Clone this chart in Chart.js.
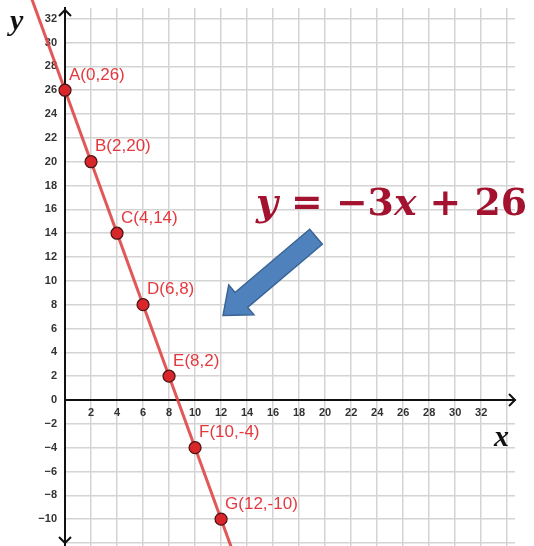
<!DOCTYPE html>
<html>
<head>
<meta charset="utf-8">
<script src="https://cdn.jsdelivr.net/npm/chart.js@4/dist/chart.umd.min.js"></script>
<style>
  html,body{margin:0;padding:0;background:#fff;}
  canvas{display:block;}
</style>
</head>
<body>
<canvas id="lineChart" width="534" height="546"></canvas>
<script>
// named points on the line
const pointNames = ['A','B','C','D','E','F','G'];
const xValues = [0, 2, 4, 6, 8, 10, 12];
const yValues = [26, 20, 14, 8, 2, -4, -10];

// y = slope * x + intercept
const slope = -3;
const intercept = 26;
const lineSpan = [-2.7, 12.8];

// axes
const xRange = [0, 34.6];
const yRange = [-12.25, 32.9];
const tickStep = 2;
const hiddenXTicks = [0, 34];
const hiddenYTicks = [-12];

const fmt = v => v < 0 ? '\u2212' + Math.abs(v) : String(v);

const points = xValues.map((x, i) => ({x: x, y: yValues[i]}));
const lineEnds = lineSpan.map(x => ({x: x, y: slope * x + intercept}));

const RED_TEXT = '#e5383e';
const EQ_RED = '#a3122e';

function noPadding(scale) {
  scale.paddingTop = 0;
  scale.paddingBottom = 0;
  scale.paddingLeft = 0;
  scale.paddingRight = 0;
}

function chevron(ctx, x, y, dir) {
  // small open arrow head at the end of an axis
  const s = 6;
  ctx.beginPath();
  if (dir === 'up') { ctx.moveTo(x - s, y + s); ctx.lineTo(x, y); ctx.lineTo(x + s, y + s); }
  if (dir === 'down') { ctx.moveTo(x - s, y - s); ctx.lineTo(x, y); ctx.lineTo(x + s, y - s); }
  if (dir === 'right') { ctx.moveTo(x - s, y - s); ctx.lineTo(x, y); ctx.lineTo(x - s, y + s); }
  ctx.stroke();
}

const extras = {
  id: 'extras',
  afterDatasetsDraw(chart) {
    const ctx = chart.ctx;
    const xs = chart.scales.x, ys = chart.scales.y;
    const area = chart.chartArea;

    // axis arrow heads
    ctx.save();
    ctx.strokeStyle = '#111';
    ctx.lineWidth = 2;
    const x0 = xs.getPixelForValue(0), y0 = ys.getPixelForValue(0);
    chevron(ctx, x0, area.top + 2, 'up');
    chevron(ctx, x0, area.bottom - 3, 'down');
    chevron(ctx, area.right, y0, 'right');
    ctx.restore();

    // point labels
    const meta = chart.getDatasetMeta(1);
    ctx.save();
    ctx.font = '17px "Liberation Sans", Arial, sans-serif';
    ctx.fillStyle = RED_TEXT;
    ctx.textAlign = 'left';
    ctx.textBaseline = 'middle';
    meta.data.forEach((el, i) => {
      const label = pointNames[i] + '(' + xValues[i] + ',' + yValues[i] + ')';
      ctx.fillText(label, el.x + 4, el.y - 15);
    });
    ctx.restore();

    // axis letters
    ctx.save();
    ctx.fillStyle = '#111';
    ctx.font = 'italic bold 30px "Liberation Serif", serif';
    ctx.textBaseline = 'alphabetic';
    ctx.fillText('y', 10, 30);
    ctx.fillText('x', 494, 446);
    ctx.restore();

    // equation
    const parts = [
      {t: 'y', s: 'italic bold'},
      {t: ' = ', s: 'bold'},
      {t: '\u22123', s: 'bold'},
      {t: 'x', s: 'italic bold'},
      {t: ' + 26', s: 'bold'}
    ];
    const family = '"DejaVu Serif", serif';
    let size = 38;
    ctx.save();
    let total = 0;
    parts.forEach(p => { ctx.font = p.s + ' ' + size + 'px ' + family; total += ctx.measureText(p.t).width; });
    size = size * 271 / total;
    let ex = 256;
    ctx.fillStyle = EQ_RED;
    ctx.textBaseline = 'alphabetic';
    parts.forEach(p => {
      ctx.font = p.s + ' ' + size.toFixed(1) + 'px ' + family;
      ctx.fillText(p.t, ex, 215);
      ex += ctx.measureText(p.t).width;
    });
    ctx.restore();

    // blue block arrow pointing at the line
    const tail = {x: xs.getPixelForValue(19.3), y: ys.getPixelForValue(13.7)};
    const tip = {x: xs.getPixelForValue(12.15), y: ys.getPixelForValue(7.1)};
    const dx = tip.x - tail.x, dy = tip.y - tail.y;
    const len = Math.hypot(dx, dy);
    const ux = dx / len, uy = dy / len;
    const nx = -uy, ny = ux;
    const shaftW = 9.8, headW = 19.5, headL = 24;
    const bx = tip.x - ux * headL, by = tip.y - uy * headL;
    ctx.save();
    ctx.beginPath();
    ctx.moveTo(tail.x + nx * shaftW, tail.y + ny * shaftW);
    ctx.lineTo(bx + nx * shaftW, by + ny * shaftW);
    ctx.lineTo(bx + nx * headW, by + ny * headW);
    ctx.lineTo(tip.x, tip.y);
    ctx.lineTo(bx - nx * headW, by - ny * headW);
    ctx.lineTo(bx - nx * shaftW, by - ny * shaftW);
    ctx.lineTo(tail.x - nx * shaftW, tail.y - ny * shaftW);
    ctx.closePath();
    ctx.fillStyle = '#4f81bd';
    ctx.fill();
    ctx.strokeStyle = '#3a6595';
    ctx.lineWidth = 1.5;
    ctx.stroke();
    ctx.restore();
  }
};

new Chart(document.getElementById('lineChart').getContext('2d'), {
  type: 'scatter',
  data: {
    datasets: [
      {
        data: lineEnds,
        showLine: true,
        borderColor: 'rgba(222,70,70,0.9)',
        borderWidth: 3,
        pointRadius: 0,
        clip: false,
        order: 2
      },
      {
        data: points,
        backgroundColor: '#d8262b',
        borderColor: '#4a1212',
        borderWidth: 1.2,
        pointRadius: 6,
        clip: false,
        order: 1
      }
    ]
  },
  options: {
    responsive: false,
    animation: false,
    events: [],
    layout: {autoPadding: false, padding: {top: 8, right: 19, bottom: 0, left: 0}},
    plugins: {legend: {display: false}, tooltip: {enabled: false}},
    scales: {
      x: {
        type: 'linear',
        position: {y: 0},
        min: xRange[0],
        max: xRange[1],
        afterFit: scale => { scale.height = 0; noPadding(scale); },
        grid: {color: '#d4d4d4', lineWidth: 1.5, drawTicks: false},
        border: {display: true, color: '#111', width: 2},
        ticks: {
          stepSize: tickStep,
          includeBounds: false,
          padding: 6,
          maxRotation: 0,
          autoSkip: false,
          color: '#333',
          font: {family: '"Liberation Sans", Arial, sans-serif', size: 11, weight: 'bold'},
          callback: v => hiddenXTicks.includes(v) ? '' : fmt(v)
        }
      },
      y: {
        type: 'linear',
        position: 'left',
        min: yRange[0],
        max: yRange[1],
        afterFit: scale => { scale.width = 65; noPadding(scale); },
        grid: {color: '#d4d4d4', lineWidth: 1.5, drawTicks: false},
        border: {display: true, color: '#111', width: 2},
        ticks: {
          stepSize: tickStep,
          includeBounds: false,
          padding: 8,
          autoSkip: false,
          color: '#333',
          font: {family: '"Liberation Sans", Arial, sans-serif', size: 11, weight: 'bold'},
          callback: v => hiddenYTicks.includes(v) ? '' : fmt(v)
        }
      }
    }
  },
  plugins: [extras]
});
</script>
</body>
</html>
